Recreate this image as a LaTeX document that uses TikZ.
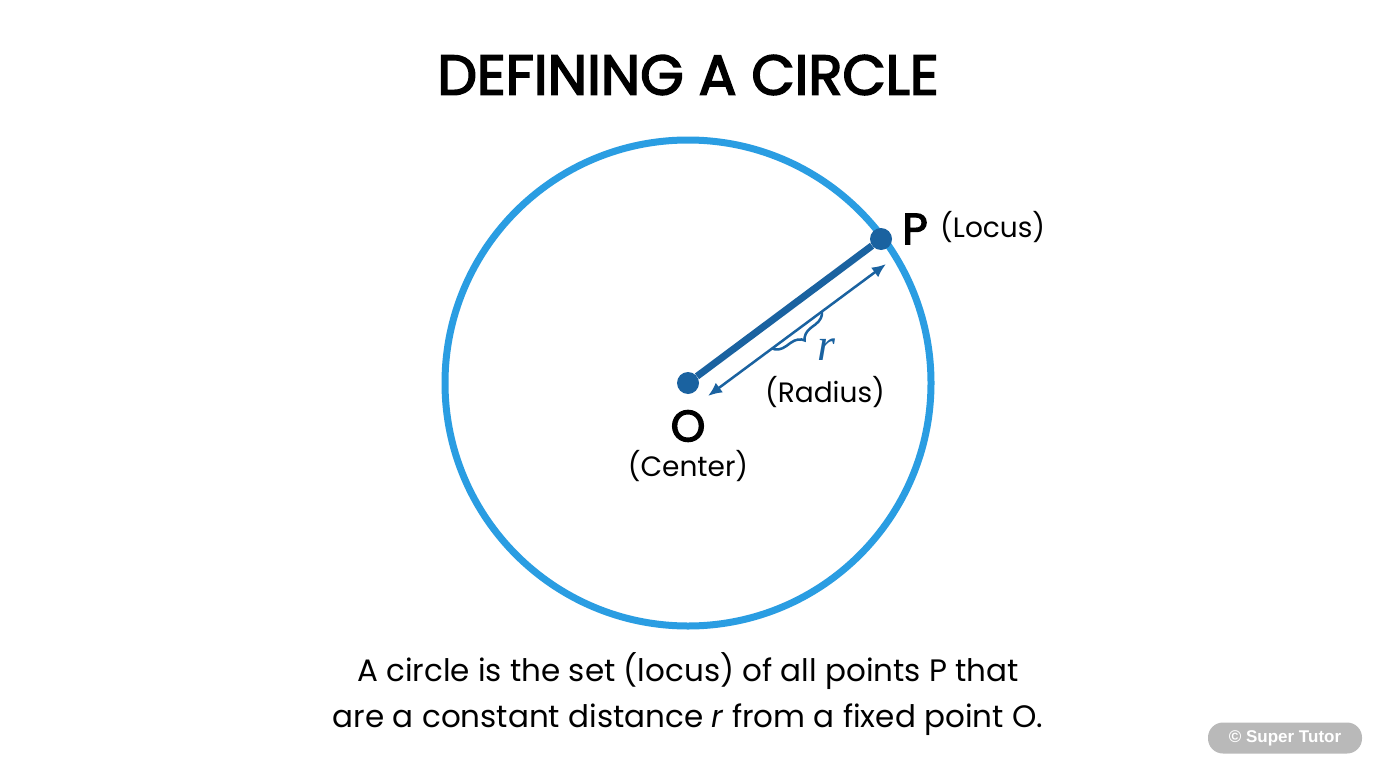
\documentclass[tikz,border=0pt]{standalone}
\usepackage{fontspec}
\setmainfont{Poppins}
\newfontfamily\medfont{Poppins}[FakeBold=3]
\newfontfamily\rfont{Liberation Serif}
\newfontfamily\badgefont{Liberation Sans}
\usetikzlibrary{decorations.pathreplacing,arrows.meta,calc}
\definecolor{circ}{HTML}{2A9DE2}
\definecolor{dk}{HTML}{1A62A0}
\begin{document}
\begin{tikzpicture}[x=1pt,y=-1pt,
  lbl/.style={font=\fontsize{28}{32}\selectfont,text=black,inner sep=0pt},
  big/.style={font=\medfont\fontsize{44}{46}\selectfont,text=black,inner sep=0pt},
  dot/.style={circle,fill=dk,minimum size=22pt,inner sep=0pt}]
\useasboundingbox (0,0) rectangle (1376,768);
\fill[white] (0,0) rectangle (1376,768);
\node[font=\medfont\fontsize{56}{58}\selectfont,inner sep=0pt] (title) at (688,75) {DEFINING A CIRCLE};
\draw[circ,line width=7pt] (688,383) circle (243);
\node[dot] (O) at (688,383) {};
\node[dot] (P) at (881,239) {};
\draw[dk,line width=7pt] (O) -- (P);
\coordinate (a1) at (708,396);
\coordinate (a2) at (886,264);
\draw[dk,line width=2.5pt,{Latex[length=14pt,width=12pt]}-{Latex[length=14pt,width=12pt]}] (a1) -- (a2);
\coordinate (b1) at ($(a1)!0.36!(a2)$);
\coordinate (b2) at ($(a1)!0.64!(a2)$);
\draw[dk,line width=2.5pt,decorate,decoration={brace,amplitude=13pt,mirror}] (b1) -- (b2);
\node[text=dk,font=\rfont\itshape\fontsize{46}{48}\selectfont,inner sep=0pt] (r) at (826,350) {r};
\node[lbl] (rad) at (825,392) {(Radius)};
\node[big] (Ol) at (688,426) {O};
\node[lbl] (cen) at (688,466) {(Center)};
\node[big] (Pl) at (915,229) {P};
\node[lbl,anchor=west] (loc) at (940,227) {(Locus)};
\node[font=\fontsize{31}{46}\selectfont,align=center,inner sep=0pt] (txt) at (688,694) {A circle is the set (locus) of all points P that\\are a constant distance \textit{r} from a fixed point O.};
\node[fill=gray!55,rounded corners=15pt,minimum width=154pt,minimum height=31pt,text=white,font=\badgefont\bfseries\fontsize{17}{20}\selectfont] (badge) at (1285,738) {© Super Tutor};
\end{tikzpicture}
\end{document}
